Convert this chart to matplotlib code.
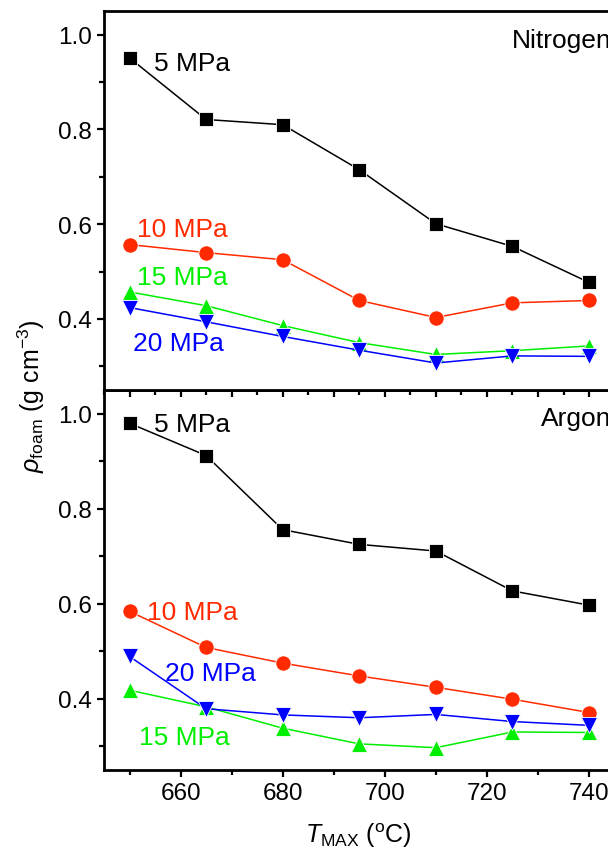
import numpy as np
import matplotlib.pyplot as plt
from matplotlib.ticker import MultipleLocator

plt.rcParams['font.family'] = ['Liberation Sans', 'DejaVu Sans']
plt.rcParams['mathtext.fontset'] = 'custom'
plt.rcParams['mathtext.rm'] = 'Liberation Sans'
plt.rcParams['mathtext.it'] = 'Liberation Sans:italic'

temps = [650, 665, 680, 695, 710, 725, 740]

# Nitrogen
n2_5 = [0.951, 0.821, 0.810, 0.715, 0.601, 0.553, 0.477]
n2_10 = [0.557, 0.540, 0.525, 0.439, 0.403, 0.434, 0.439]
n2_15 = [0.457, 0.428, 0.386, 0.350, 0.325, 0.333, 0.343]
n2_20 = [0.424, 0.394, 0.363, 0.334, 0.307, 0.322, 0.321]

# Argon
ar_5 = [0.980, 0.912, 0.756, 0.725, 0.711, 0.627, 0.597]
ar_10 = [0.584, 0.508, 0.475, 0.448, 0.424, 0.399, 0.371]
ar_15 = [0.418, 0.383, 0.338, 0.305, 0.297, 0.330, 0.329]
ar_20 = [0.489, 0.379, 0.366, 0.360, 0.367, 0.352, 0.344]

black = 'black'
red = '#ff2a00'
green = '#00ee00'
blue = '#0000ff'

fig = plt.figure(figsize=(6.08, 8.54), dpi=100)
left, right = 104 / 608, 614.6 / 608
top, mid, bot = 1 - 12 / 854, 1 - 391 / 854, 1 - 771 / 854
ax1 = fig.add_axes([left, mid, right - left, top - mid])
ax2 = fig.add_axes([left, bot, right - left, mid - bot])
ax1.set_zorder(3)


def draw(ax, s5, s10, s15, s20):
    ax.plot(temps, s5, '-', color=black, lw=1.1, marker='s', ms=9.5, mec='white', mew=0.6)
    ax.plot(temps, s10, '-', color=red, lw=1.1, marker='o', ms=11, mec='white', mew=0.6)
    ax.plot(temps, s15, '-', color=green, lw=1.1, marker='^', ms=11.5, mec='white', mew=0.6)
    ax.plot(temps, s20, '-', color=blue, lw=1.1, marker='v', ms=11.5, mec='white', mew=0.6)
    ax.set_xlim(645, 745)
    ax.set_ylim(0.25, 1.05)
    ax.xaxis.set_major_locator(MultipleLocator(20))
    ax.xaxis.set_minor_locator(MultipleLocator(10))
    ax.yaxis.set_major_locator(MultipleLocator(0.2))
    ax.yaxis.set_minor_locator(MultipleLocator(0.1))
    ax.tick_params(which='both', direction='out', width=1.6, labelsize=17.5)
    ax.tick_params(which='major', length=5)
    ax.tick_params(which='minor', length=3.5)
    for sp in ax.spines.values():
        sp.set_linewidth(2)
    ax.yaxis.set_major_formatter(plt.FormatStrFormatter('%.1f'))


draw(ax1, n2_5, n2_10, n2_15, n2_20)
draw(ax2, ar_5, ar_10, ar_15, ar_20)
ax1.xaxis.set_major_locator(MultipleLocator(10))
ax1.xaxis.set_minor_locator(MultipleLocator(5))
ax1.tick_params(axis='x', labelbottom=False)

fs = 19
ax1.text(654.7, 0.926, '5 MPa', color=black, fontsize=fs, va='baseline')
ax1.text(651.5, 0.576, '10 MPa', color=red, fontsize=fs, va='baseline')
ax1.text(651.5, 0.473, '15 MPa', color=green, fontsize=fs, va='baseline')
ax1.text(650.7, 0.335, '20 MPa', color=blue, fontsize=fs, va='baseline')
ax1.text(744.3, 0.975, 'Nitrogen', color=black, fontsize=fs, va='baseline', ha='right')

ax2.text(654.7, 0.963, '5 MPa', color=black, fontsize=fs, va='baseline')
ax2.text(653.5, 0.568, '10 MPa', color=red, fontsize=fs, va='baseline')
ax2.text(656.9, 0.440, '20 MPa', color=blue, fontsize=fs, va='baseline')
ax2.text(651.8, 0.304, '15 MPa', color=green, fontsize=fs, va='baseline')
ax2.text(744.3, 0.976, 'Argon', color=black, fontsize=fs, va='baseline', ha='right')

fig.text(0.051, 0.536, r'$\rho_{\rm foam}$ (g cm$^{-3}$)', rotation=90,
         fontsize=18, ha='center', va='center')
fig.text(0.59, 0.022, r'$T_{\rm MAX}$ ($^{\rm o}$C)', fontsize=18,
         ha='center', va='center')

fig.savefig('out.png', dpi=100)
